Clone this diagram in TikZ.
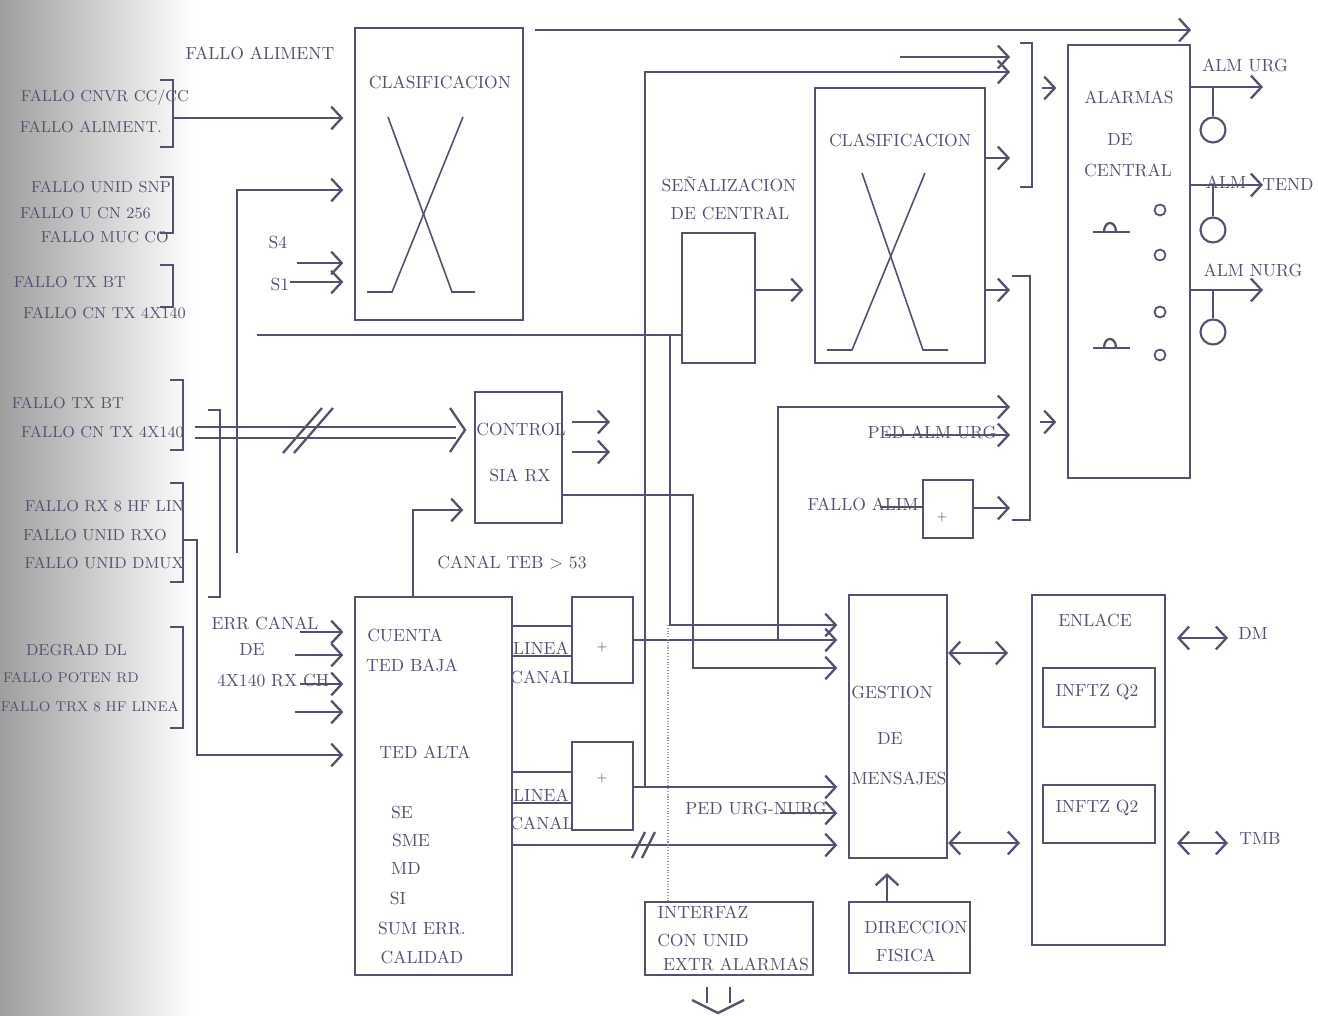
\documentclass[tikz,border=0pt]{standalone}
\usepackage{tikz}
\usetikzlibrary{positioning, fit, arrows.meta}
\definecolor{ink}{RGB}{88,78,110}

\begin{document}
\begin{tikzpicture}
    [x=0.02cm, y=-0.02cm, color=ink, line width=1.3pt,
    blk/.style={rectangle, draw=ink, line width=1.3pt, inner sep=0pt},
    lbl/.style={font=\normalsize, text=ink, inner sep=0pt},
    side/.style={font=\small, text=ink, inner sep=0pt, anchor=east},
    plus/.style={font=\scriptsize, text=ink, inner sep=0pt},
    sig/.style={-{Straight Barb[length=6pt, width=13pt]}},
    sigin/.style={sig, shorten >=6pt},
    bidir/.style={{Straight Barb[length=6pt, width=13pt]}-{Straight Barb[length=6pt, width=13pt]}},
    lamp/.style={circle, draw=ink, line width=1.2pt, inner sep=0pt, minimum size=0.5cm},
    led/.style={circle, draw=ink, line width=1pt, inner sep=0pt, minimum size=0.22cm},
    cross/.style={line width=0.9pt}]

    \fill[white] (0,0) rectangle (1318,1016);
    \shade[left color=black!38, right color=white] (0,0) rectangle (195,1016);
    \useasboundingbox (0,0) rectangle (1318,1016);

    \node[blk, fit={(355,28) (523,320)}] (clasa) {};
    \node[blk, fit={(815,88) (985,363)}] (clasb) {};
    \node[blk, fit={(682,233) (755,363)}] (senal) {};
    \node[blk, fit={(1068,45) (1190,478)}] (alarm) {};
    \node[blk, fit={(475,392) (562,523)}] (ctrl) {};
    \node[blk, fit={(923,480) (973,538)}] (sumc) {};
    \node[blk, fit={(355,597) (512,975)}] (cuenta) {};
    \node[blk, fit={(572,597) (633,683)}] (suma) {};
    \node[blk, fit={(572,742) (633,830)}] (sumb) {};
    \node[blk, fit={(849,595) (947,858)}] (gest) {};
    \node[blk, fit={(1032,595) (1165,945)}] (enlace) {};
    \node[blk, fit={(1043,668) (1155,727)}] (qa) {};
    \node[blk, fit={(1043,785) (1155,843)}] (qb) {};
    \node[blk, fit={(645,902) (813,975)}] (interf) {};
    \node[blk, fit={(849,902) (970,973)}] (direc) {};

    \node[plus] (psuma) at (602,647) {+};
    \node[plus] (psumb) at (602,778) {+};
    \node[plus] (psumc) at (942,517) {+};

    \node[lbl] (tfallo) at (260,53) {FALLO ALIMENT};
    \node[lbl] (tclasa) at (440,82) {CLASIFICACION};
    \node[lbl] (tclasb) at (900,140) {CLASIFICACION};
    \node[lbl] (tsenal) at (729,184) {SEÑALIZACION};
    \node[lbl] (tsenalb) at (730,213) {DE CENTRAL};
    \node[lbl] (talarm) at (1129,97) {ALARMAS};
    \node[lbl] (talarmb) at (1120,140) {DE};
    \node[lbl] (talarmc) at (1128,170) {CENTRAL};
    \node[lbl] (turg) at (1245,65) {ALM URG};
    \node[lbl] (ttenda) at (1226,182) {ALM};
    \node[lbl] (ttendb) at (1288,185) {TEND};
    \node[lbl] (tnurg) at (1253,270) {ALM NURG};
    \node[lbl] (ts4) at (278,243) {S4};
    \node[lbl] (ts1) at (280,285) {S1};
    \node[lbl] (tctrl) at (521,430) {CONTROL};
    \node[lbl] (tctrlb) at (520,475) {SIA RX};
    \node[lbl] (tteb) at (512,563) {CANAL TEB $>$ 53};
    \node[lbl] (tpedalm) at (932,432) {PED ALM URG};
    \node[lbl] (tfalim) at (863,504) {FALLO ALIM};
    \node[lbl] (terr) at (265,623) {ERR CANAL};
    \node[lbl] (terrb) at (252,649) {DE};
    \node[lbl] (terrc) at (273,680) {4X140 RX CH};
    \node[lbl] (tcuen) at (405,635) {CUENTA};
    \node[lbl] (tcuenb) at (412,665) {TED BAJA};
    \node[lbl] (tcuenc) at (425,752) {TED ALTA};
    \node[lbl] (tse) at (402,812) {SE};
    \node[lbl] (tsme) at (411,840) {SME};
    \node[lbl] (tmd) at (406,868) {MD};
    \node[lbl] (tsi) at (398,898) {SI};
    \node[lbl] (tsum) at (422,928) {SUM ERR.};
    \node[lbl] (tcal) at (422,957) {CALIDAD};
    \node[lbl] (tlina) at (541,648) {LINEA};
    \node[lbl] (tcana) at (542,677) {CANAL};
    \node[lbl] (tlinb) at (541,795) {LINEA};
    \node[lbl] (tcanb) at (542,823) {CANAL};
    \node[lbl] (tgest) at (892,692) {GESTION};
    \node[lbl] (tgestb) at (890,738) {DE};
    \node[lbl] (tgestc) at (899,778) {MENSAJES};
    \node[lbl] (tpedurg) at (756,808) {PED URG-NURG};
    \node[lbl] (tenl) at (1095,620) {ENLACE};
    \node[lbl] (tqa) at (1097,692) {INFTZ Q2};
    \node[lbl] (tqb) at (1097,808) {INFTZ Q2};
    \node[lbl] (tdm) at (1253,633) {DM};
    \node[lbl] (ttmb) at (1260,838) {TMB};
    \node[lbl] (tint) at (703,912) {INTERFAZ};
    \node[lbl] (tintb) at (703,940) {CON UNID};
    \node[lbl] (tintc) at (736,964) {EXTR ALARMAS};
    \node[lbl] (tdir) at (916,927) {DIRECCION};
    \node[lbl] (tdirb) at (906,955) {FISICA};

    \node[side] (fa) at (190,98) {FALLO CNVR CC/CC};
    \node[side] (fb) at (163,127) {FALLO ALIMENT.};
    \node[side] (fc) at (172,187) {FALLO UNID SNP};
    \node[side] (fd) at (152,213) {FALLO U CN 256};
    \node[side] (fe) at (170,237) {FALLO MUC CO};
    \node[side] (ff) at (127,282) {FALLO TX BT};
    \node[side] (fg) at (187,313) {FALLO CN TX 4X140};
    \node[side] (fh) at (125,403) {FALLO TX BT};
    \node[side] (fi) at (185,432) {FALLO CN TX 4X140};
    \node[side] (fj) at (185,506) {FALLO RX 8 HF LIN};
    \node[side] (fk) at (168,535) {FALLO UNID RXO};
    \node[side] (fl) at (185,563) {FALLO UNID DMUX};
    \node[side] (fm) at (128,650) {DEGRAD DL};
    \node[side, font=\footnotesize] (fn) at (140,678) {FALLO POTEN RD};
    \node[side, font=\footnotesize] (fo) at (180,707) {FALLO TRX 8 HF LINEA};

    \foreach \xa/\xb/\ya/\yb in {160/173/80/147, 160/173/177/233, 160/173/265/307,
      170/183/380/450, 170/183/483/582, 170/183/627/728, 208/220/410/597}
      \draw (\xa,\ya) -| (\xb,\yb) -- (\xa,\yb);
    \draw (1020,43) -| (1032,187) -- (1020,187);
    \draw (1012,276) -| (1030,520) -- (1012,520);

    \draw[cross] (388,117) -- (452,292) -- (475,292);
    \draw[cross] (463,117) -- (392,292) -- (367,292);
    \draw[cross] (862,173) -- (923,350) -- (948,350);
    \draw[cross] (925,173) -- (852,350) -- (827,350);

    \draw[sigin] (173,118) -- (clasa.west |- 0,118);
    \draw[sigin] (237,553) |- (clasa.west |- 0,190);
    \draw[sigin] (297,263) -- (clasa.west |- 0,263);
    \draw[sigin] (290,282) -- (clasa.west |- 0,282);
    \draw (257,335) -- (senal.west |- 0,335);
    \draw[sigin] (senal.east |- 0,290) -- (clasb.west |- 0,290);

    \draw[sig] (535,30) -- (alarm.north east |- 0,30);
    \draw[sig] (900,57) -- (1010,57);
    \draw[sig] (645,787) |- (1010,72);
    \draw[sig] (clasb.east |- 0,158) -- (1010,158);
    \draw[sig] (clasb.east |- 0,290) -- (1010,290);
    \draw[sig] (778,640) |- (1010,407);
    \draw[sig] (885,435) -- (1010,435);
    \draw (880,507) -- (sumc.west |- 0,507);
    \draw[sig] (sumc.east |- 0,508) -- (1010,508);
    \draw[sigin] (1042,88) -- (alarm.west |- 0,88);
    \draw[sigin] (1040,422) -- (alarm.west |- 0,422);

    \node[lamp] (lurg) at (1213,130) {};
    \node[lamp] (lten) at (1213,230) {};
    \node[lamp] (lnurg) at (1213,332) {};
    \draw[sig] (alarm.east |- 0,87) -- (1263,87);
    \draw[sig] (alarm.east |- 0,185) -- (1263,185);
    \draw[sig] (alarm.east |- 0,290) -- (1263,290);
    \draw (lurg.north |- 0,87) -- (lurg.north);
    \draw (lten.north |- 0,185) -- (lten.north);
    \draw (lnurg.north |- 0,290) -- (lnurg.north);
    \foreach \y [count=\i] in {210,255,312,355}
      \node[led] (led\i) at (1160,\y) {};
    \foreach \y in {232,348} {
      \draw (1093,\y) -- (1130,\y);
      \draw (1104,\y) .. controls (1104,\y-12) and (1116,\y-12) .. (1116,\y);
    }

    \draw[shorten >=10pt] (195,427) -- (ctrl.west |- 0,427);
    \draw[shorten >=10pt] (195,438) -- (ctrl.west |- 0,438);
    \draw (450,408) -- (465,430) -- (450,452);
    \draw (283,453) -- (322,408);
    \draw (294,453) -- (333,408);
    \draw[sig] (572,422) -- (610,422);
    \draw[sig] (572,452) -- (610,452);
    \draw[sigin] (cuenta.north -| 413,0) |- (ctrl.west |- 0,510);

    \draw[sigin] (300,632) -- (cuenta.west |- 0,632);
    \draw[sigin] (295,655) -- (cuenta.west |- 0,655);
    \draw[sigin] (300,684) -- (cuenta.west |- 0,684);
    \draw[sigin] (295,712) -- (cuenta.west |- 0,712);
    \draw[sigin] (183,540) -- (197,540) |- (cuenta.west |- 0,755);

    \foreach \y in {626,656}
      \draw (cuenta.east |- 0,\y) -- (suma.west |- 0,\y);
    \foreach \y in {772,803}
      \draw (cuenta.east |- 0,\y) -- (sumb.west |- 0,\y);

    \draw[sigin] (670,335) |- (gest.west |- 0,625);
    \draw[sigin] (suma.east |- 0,640) -- (gest.west |- 0,640);
    \draw[sigin] (ctrl.east |- 0,495) -| (693,668) -- (gest.west |- 0,668);
    \draw[sigin] (sumb.east |- 0,787) -- (gest.west |- 0,787);
    \draw[sigin] (780,813) -- (gest.west |- 0,813);
    \draw[sigin] (cuenta.east |- 0,845) -- (gest.west |- 0,845);
    \draw (632,858) -- (645,832);
    \draw (642,858) -- (655,832);
    \draw[densely dotted, line width=0.6pt, ink!60] (668,625) -- (interf.north -| 668,0);

    \draw[bidir] (gest.east |- 0,653) -- (1008,653);
    \draw[bidir] (gest.east |- 0,843) -- (1020,843);
    \draw[bidir] (1177,638) -- (1228,638);
    \draw[bidir] (1177,843) -- (1228,843);
    \draw[sig, shorten >=8pt] (direc.north -| 887,0) -- (gest.south -| 887,0);

    \draw (707,987) -- (707,1003);
    \draw (730,987) -- (730,1003);
    \draw (692,1000) -- (718,1013) -- (744,1000);
  \end{tikzpicture}
\end{document}
